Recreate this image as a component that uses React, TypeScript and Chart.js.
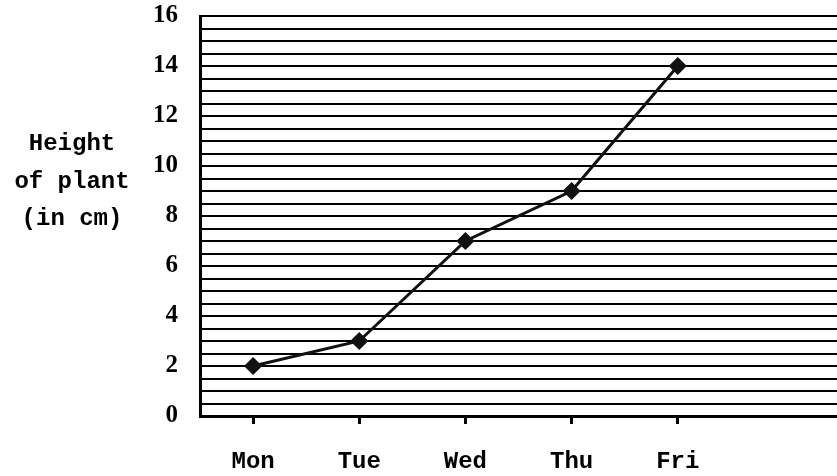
import React, { useEffect, useRef } from "react";
import { Chart, registerables } from "chart.js";

Chart.register(...registerables);

const days = ["Mon", "Tue", "Wed", "Thu", "Fri"];
const heights = [2, 3, 7, 9, 14];
const yTitleLines = ["Height", "of plant", "(in cm)"];

const titlePlugin = {
  id: "yTitleLines",
  afterDraw(chart: any) {
    const ctx = chart.ctx;
    ctx.save();
    ctx.fillStyle = "#000";
    ctx.font = "bold 24px 'Liberation Mono'";
    ctx.textAlign = "center";
    ctx.textBaseline = "middle";
    const ys = [144, 182, 219];
    yTitleLines.forEach((t, i) => ctx.fillText(t, 72, ys[i]));
    ctx.restore();
  },
};

export default function App() {
  const ref = useRef<HTMLCanvasElement>(null);
  useEffect(() => {
    if (!ref.current) return;
    const chart = new Chart(ref.current, {
      type: "line",
      data: {
        datasets: [
          {
            data: heights.map((v, i) => ({ x: i, y: v })),
            borderColor: "#111",
            backgroundColor: "#111",
            borderWidth: 3,
            pointStyle: "rectRot",
            pointRadius: 7,
            pointHoverRadius: 7,
            tension: 0,
          },
        ],
      },
      plugins: [titlePlugin],
      options: {
        animation: false,
        responsive: false,
        maintainAspectRatio: false,
        layout: { padding: { top: 16, right: 0, left: 0, bottom: 0 } },
        plugins: { legend: { display: false }, tooltip: { enabled: false } },
        scales: {
          x: {
            type: "linear",
            min: -0.5,
            max: 5.5,
            afterBuildTicks: (scale: any) => {
              scale.ticks = days.map((_, i) => ({ value: i }));
            },
            afterFit: (scale: any) => {
              scale.height = 60;
              scale.paddingLeft = 0;
              scale.paddingRight = 0;
            },
            ticks: {
              callback: (v: any) => days[v as number] ?? "",
              color: "#000",
              font: { family: "'Liberation Mono'", size: 24, weight: "bold" },
              padding: 24,
              autoSkip: false,
              maxRotation: 0,
            },
            grid: {
              drawOnChartArea: false,
              drawTicks: true,
              tickLength: 8,
              color: "#000",
              lineWidth: 3,
            },
            border: { color: "#000", width: 3 },
          },
          y: {
            min: 0,
            max: 16,
            afterBuildTicks: (scale: any) => {
              const t = [];
              for (let v = 0; v <= 16; v += 0.5) t.push({ value: v });
              scale.ticks = t;
            },
            afterFit: (scale: any) => {
              scale.width = 200;
              scale.paddingTop = 0;
              scale.paddingBottom = 0;
            },
            ticks: {
              callback: (v: any) => (Number(v) % 2 === 0 ? String(v) : ""),
              color: "#000",
              font: { family: "'Liberation Serif'", size: 25, weight: "bold" },
              padding: 22,
              autoSkip: false,
            },
            grid: {
              color: "#000",
              lineWidth: 2,
              drawTicks: false,
            },
            border: { color: "#000", width: 3 },
          },
        },
      },
    });
    const meta: any = chart.getDatasetMeta(0);
    meta.controller.getMaxOverflow = () => 0;
    chart.update();
    return () => chart.destroy();
  }, []);
  return (
    <div style={{ position: "fixed", left: 0, top: 0, width: 837, height: 476, background: "#fff" }}>
      <canvas ref={ref} width={837} height={476} style={{ width: 837, height: 476 }} />
    </div>
  );
}
